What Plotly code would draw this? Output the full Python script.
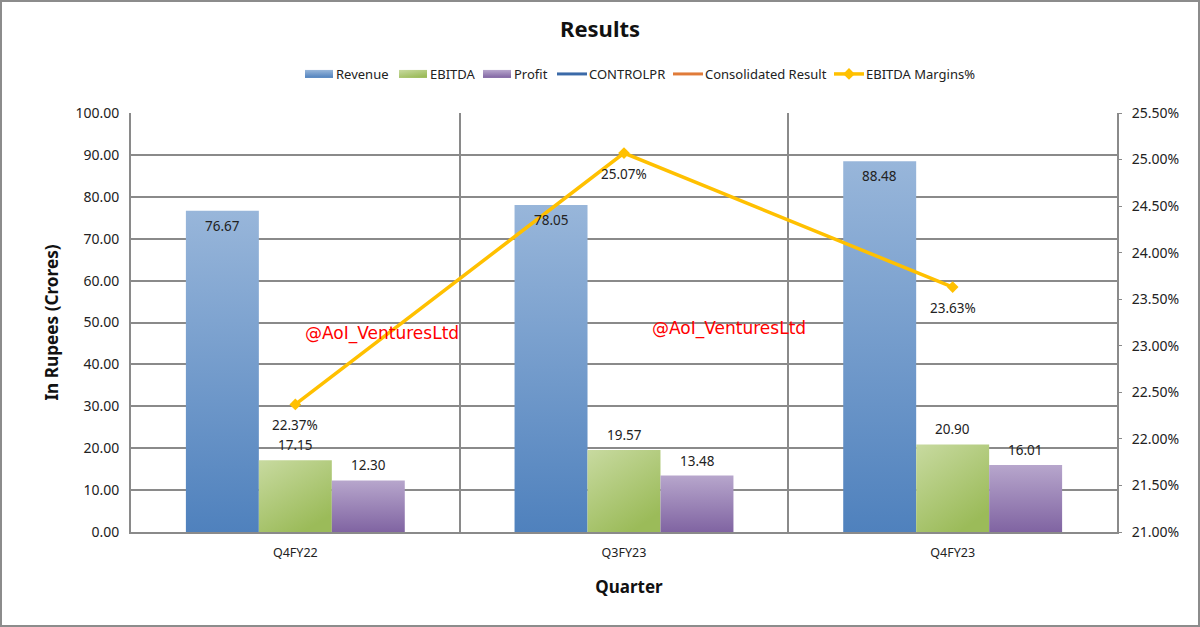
import plotly.graph_objects as go

quarters = ["Q4FY22", "Q3FY23", "Q4FY23"]
revenue = [76.67, 78.05, 88.48]
ebitda = [17.15, 19.57, 20.90]
profit = [12.30, 13.48, 16.01]
controlpr = [None, None, None]
consolidated = [None, None, None]
margins = [22.37, 25.07, 23.63]

FONT = "Noto Sans"
GRID = "#8a8a8a"
TXT = "#222222"
LBL = 13.5

fig = go.Figure()
fig.add_bar(name="Revenue", x=quarters, y=revenue, marker=dict(color="#6f97c9", line_width=0))
fig.add_bar(name="EBITDA", x=quarters, y=ebitda, marker=dict(color="#aec778", line_width=0))
fig.add_bar(name="Profit", x=quarters, y=profit, marker=dict(color="#9a83b5", line_width=0))
fig.add_scatter(name="CONTROLPR", x=quarters, y=controlpr, mode="lines",
                line=dict(color="#3b6aa8", width=3))
fig.add_scatter(name="Consolidated Result", x=quarters, y=consolidated, mode="lines",
                line=dict(color="#e07b39", width=3))
fig.add_scatter(name="EBITDA Margins%", x=quarters, y=margins, yaxis="y2", mode="lines+markers",
                line=dict(color="#ffc000", width=3.5),
                marker=dict(symbol="diamond", size=9, color="#ffc000"))

annotations = []
for series, xshift, yshift in [(revenue, -73, -15), (ebitda, 0, 15), (profit, 73, 15)]:
    for q, v in zip(quarters, series):
        annotations.append(dict(x=q, y=v, xref="x", yref="y", text=f"{v:.2f}", showarrow=False,
                                xshift=xshift, yshift=yshift, font=dict(size=LBL, color=TXT)))
for q, m in zip(quarters, margins):
    annotations.append(dict(x=q, y=m, xref="x", yref="y2", text=f"{m:.2f}%", showarrow=False,
                            yshift=-21, font=dict(size=LBL, color=TXT)))
for px, py in [(382, 333), (729, 328)]:
    annotations.append(dict(x=(px - 131) / 986, y=(532 - py) / 419, xref="paper", yref="paper",
                            xanchor="center", yanchor="middle",
                            text="@AoI_VenturesLtd", showarrow=False,
                            font=dict(size=17, color="#ff0000", family="DejaVu Sans")))

shapes = [dict(type="rect", xref="paper", yref="paper",
               x0=(1 - 131) / 986, x1=(1199 - 131) / 986,
               y0=(532 - 626) / 419, y1=(532 - 1) / 419,
               line=dict(color="#8c8c8c", width=2), layer="below")]

fig.update_layout(
    width=1200, height=627,
    margin=dict(l=131, r=83, t=113, b=95, autoexpand=False),
    paper_bgcolor="white", plot_bgcolor="white",
    font=dict(family=FONT, size=13, color=TXT),
    title=dict(text="<b>Results</b>", x=0.5, xanchor="center", y=0.953, yanchor="middle",
               font=dict(size=22, color="#111111")),
    barmode="group", bargap=0.334, bargroupgap=0,
    legend=dict(orientation="h", x=0.5, xref="container", xanchor="center", y=0.882, yref="container",
                yanchor="middle", font=dict(size=13), itemwidth=30, tracegroupgap=0),
    xaxis=dict(type="category", categoryorder="array", categoryarray=quarters,
               tickson="boundaries", showgrid=True, gridcolor=GRID, gridwidth=1.5,
               showline=True, linecolor=GRID, linewidth=2, ticks="", tickfont=dict(size=12.5),
               ticklabelstandoff=8,
               title=dict(text="<b>Quarter</b>", font=dict(size=17, color="#111111"), standoff=21)),
    yaxis=dict(range=[0, 100], dtick=10, tickformat=".2f", showgrid=True, gridcolor=GRID, gridwidth=1.5,
               showline=True, linecolor=GRID, linewidth=2, ticks="", tickfont=dict(size=14),
               ticklabelstandoff=7, zeroline=False,
               title=dict(text="<b>In Rupees (Crores)</b>", font=dict(size=17.2, color="#111111"), standoff=12)),
    yaxis2=dict(overlaying="y", side="right", range=[21, 25.5], dtick=0.5, tickformat=".2f", ticksuffix="%",
                showgrid=False, showline=True, linecolor=GRID, linewidth=2, ticks="outside", ticklen=3,
                tickcolor=GRID, tickfont=dict(size=14), ticklabelstandoff=7, zeroline=False),
    annotations=annotations, shapes=shapes,
)

post = r"""
document.body.style.margin = '0';
var gd = document.getElementById('{plot_id}');
var legendTextStart = [336, 430, 514, 589, 705, 866];
function paint() {
  var svg = gd.querySelector('.main-svg');
  var defs = svg.querySelector('defs');
  var NS = 'http://www.w3.org/2000/svg';
  var specs = [['gRev', '#98b6da', '#4f81bd', 0], ['gEb', '#c8daa0', '#9bbb59', 1], ['gPr', '#b7a6cc', '#8064a2', 0]];
  specs.forEach(function (s) {
    if (document.getElementById(s[0])) return;
    var g = document.createElementNS(NS, 'linearGradient');
    g.setAttribute('id', s[0]);
    g.setAttribute('x1', '0'); g.setAttribute('y1', '0');
    g.setAttribute('x2', s[3] ? '0.6' : '0'); g.setAttribute('y2', '1');
    [[0, s[1]], [1, s[2]]].forEach(function (st) {
      var e = document.createElementNS(NS, 'stop');
      e.setAttribute('offset', st[0]); e.setAttribute('stop-color', st[1]);
      g.appendChild(e);
    });
    defs.appendChild(g);
  });
  gd.querySelectorAll('.barlayer .trace.bars').forEach(function (t, i) {
    t.querySelectorAll('.point path').forEach(function (p) { p.style.fill = 'url(#' + specs[i][0] + ')'; });
  });
  var legend = gd.querySelector('.legend');
  var lx = parseFloat(/translate\(([-\d.]+)/.exec(legend.getAttribute('transform'))[1]);
  var box = legend.querySelector('.scrollbox');
  if (box) box.removeAttribute('clip-path');
  legend.querySelectorAll('.traces').forEach(function (t, i) {
    var m = /translate\(([-\d.]+),\s*([-\d.]+)/.exec(t.getAttribute('transform'));
    t.setAttribute('transform', 'translate(' + (legendTextStart[i] - 40 - lx) + ',' + m[2] + ')');
    var layers = t.querySelector('.layers');
    if (layers) layers.setAttribute('transform', 'translate(3,0)');
    if (i > 2) return;
    t.querySelectorAll('.legendpoints path').forEach(function (p) {
      p.setAttribute('d', 'M14,4H-14V-4H14Z');
      p.style.fill = 'url(#' + specs[i][0] + ')';
    });
  });
  var xt = gd.querySelector('.xtitle');
  if (xt) xt.setAttribute('x', 629);
}
paint();
gd.on('plotly_afterplot', paint);
"""
fig.write_html("out.html", post_script=post, config={"displayModeBar": False})
